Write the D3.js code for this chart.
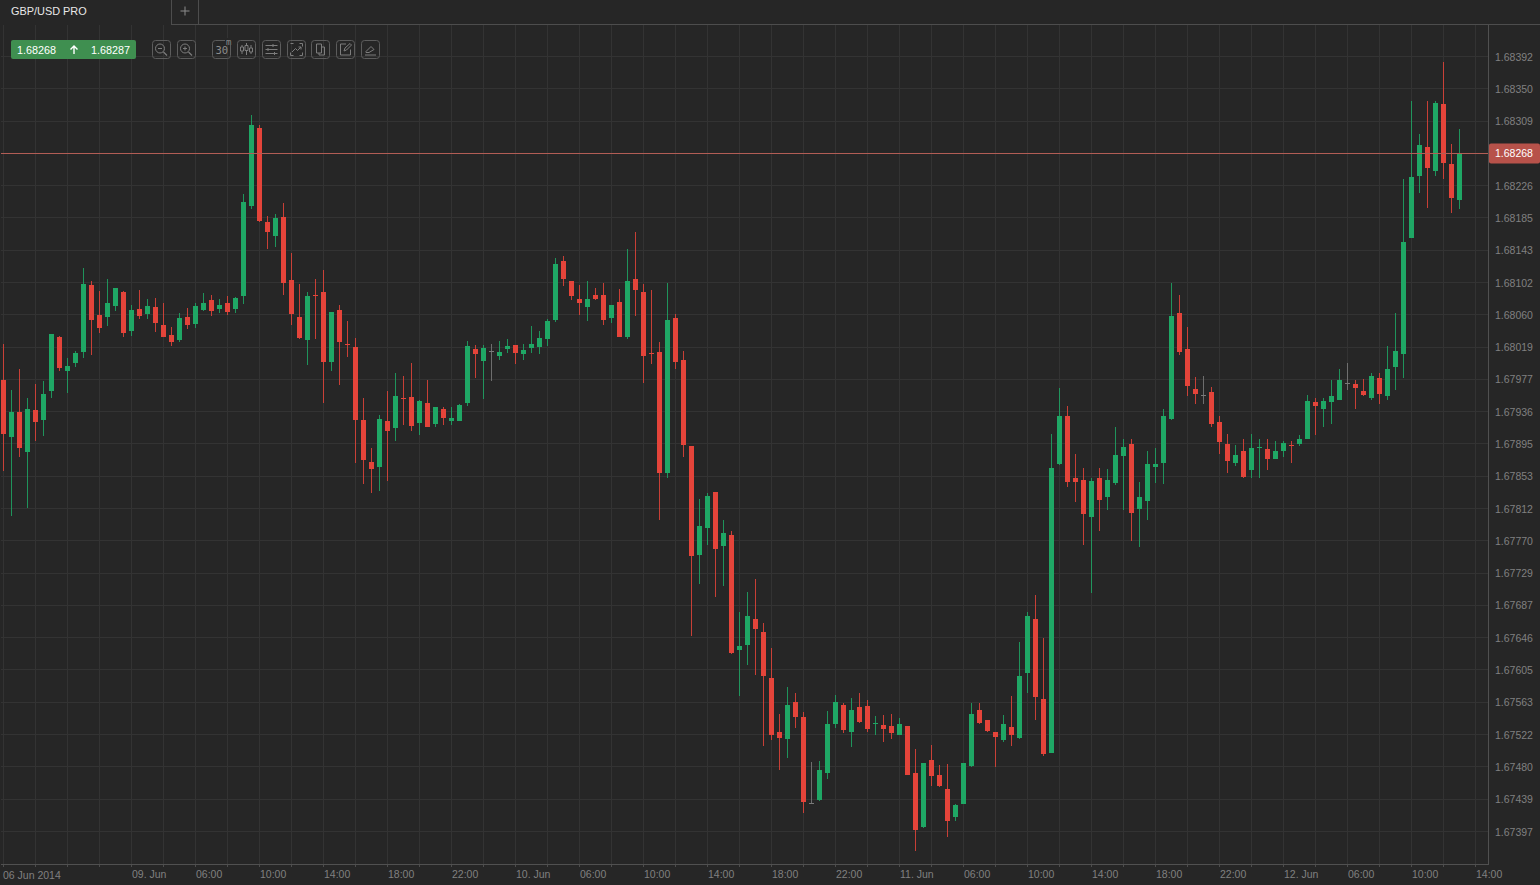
<!DOCTYPE html>
<html><head><meta charset="utf-8">
<style>html,body{margin:0;padding:0;background:#262626;overflow:hidden}svg{display:block}text{font-family:"Liberation Sans",Arial,sans-serif}</style>
<script src="https://cdnjs.cloudflare.com/ajax/libs/d3/7.8.5/d3.min.js"></script>
</head><body><svg id="c" width="1540" height="885"></svg>
<script>
// prices are written as the five digits after "1." (68392 = 1.68392)
const opens=[67977,67904,67936,67885,67939,67926,67963,68033,67989,67999,68013,68099,68061,68058,68072,68090,68040,68068,68062,68071,68048,68035,68029,68058,68049,68067,68080,68068,68076,68068,68085,68201,68301,68180,68162,68187,68106,68058,68029,68086,68090,68000,68067,68024,68020,67926,67872,67866,67925,67916,67954,67955,67922,67948,67921,67940,67925,67925,67948,68017,68002,68015,68008,68017,68022,68011,68018,68020,68030,68054,68130,68104,68081,68071,68087,68087,68057,68077,68033,68107,68090,68012,68013,67858,68057,68003,67893,67753,67787,67833,67764,67778,67631,67637,67670,67654,67595,67525,67516,67564,67545,67434,67438,67473,67536,67560,67525,67557,67559,67536,67534,67533,67522,67533,67473,67403,67489,67470,67452,67416,67433,67482,67554,67541,67525,67515,67532,67518,67601,67670,67568,67498,67869,67931,67851,67849,67802,67851,67827,67845,67880,67895,67812,67822,67865,67871,67927,68063,68017,67966,67958,67962,67923,67895,67871,67886,67862,67890,67889,67876,67886,67894,67895,67901,67949,67940,67949,67952,67974,67972,67963,67954,67980,67957,67994,68011,68159,68239,68276,68246,68332,68255,68208];
const highs=[68024,67965,67991,67954,67972,67976,68036,68034,68006,68015,68121,68104,68091,68107,68095,68092,68074,68093,68081,68082,68076,68045,68063,68070,68076,68089,68086,68081,68085,68084,68216,68318,68305,68188,68190,68205,68141,68100,68090,68107,68119,68065,68074,68053,68031,67954,67890,67932,67963,67986,67983,67999,67951,67977,67943,67943,67943,67946,68028,68022,68022,68023,68027,68030,68022,68023,68046,68040,68056,68134,68136,68104,68099,68104,68095,68102,68074,68094,68145,68167,68100,68093,68026,68102,68062,68015,67893,67824,67832,67833,67798,67783,67680,67705,67722,67665,67633,67549,67583,67576,67551,67487,67488,67552,67573,67563,67569,67576,67567,67546,67547,67549,67543,67533,67503,67485,67509,67483,67484,67433,67486,67562,67562,67541,67525,67547,67572,67641,67679,67701,67646,67908,67967,67944,67882,67864,67852,67864,67863,67917,67901,67902,67846,67886,67890,67940,68102,68086,68045,67981,67982,67968,67931,67908,67894,67901,67908,67902,67902,67899,67899,67899,67907,67958,67954,67954,67977,67991,67999,67977,67978,67986,67986,68021,68063,68235,68335,68293,68336,68336,68385,68280,68299];
const lows=[67860,67803,67878,67813,67899,67905,67954,67989,67960,67994,68006,68010,68038,68047,68066,68033,68034,68056,68056,68039,68032,68021,68026,68043,68044,68066,68060,68063,68061,68063,68075,68197,68180,68145,68148,68086,68048,68030,67997,68030,67948,67989,67971,68007,67871,67844,67832,67835,67847,67899,67919,67912,67907,67917,67917,67920,67920,67925,67944,67980,67953,67976,68003,68012,67998,68003,68012,68011,68021,68052,68098,68080,68061,68053,68080,68048,68051,68033,68030,68060,67973,67998,67797,67851,67992,67878,67649,67716,67765,67699,67713,67626,67571,67612,67598,67508,67515,67476,67492,67531,67422,67433,67437,67465,67530,67524,67506,67537,67526,67521,67512,67517,67522,67470,67373,67402,67456,67455,67391,67411,67433,67481,67536,67525,67480,67512,67508,67517,67576,67541,67494,67498,67868,67840,67821,67766,67704,67783,67810,67842,67810,67770,67763,67798,67845,67844,67926,68009,67957,67947,67946,67917,67882,67858,67867,67851,67852,67852,67862,67876,67879,67871,67893,67901,67907,67917,67921,67952,67964,67940,67957,67952,67946,67951,67965,67980,68159,68218,68198,68239,68235,68192,68197];
const closes=[67908,67936,67890,67940,67923,67959,68036,67993,67995,68012,68101,68054,68044,68076,68095,68038,68067,68060,68072,68050,68033,68026,68057,68048,68072,68076,68066,68074,68065,68083,68206,68305,68181,68167,68185,68102,68062,68031,68085,68085,68000,68065,68026,68023,67926,67875,67863,67927,67912,67957,67953,67918,67950,67917,67943,67928,67928,67945,68021,68011,68018,68015,68013,68021,68012,68016,68023,68031,68053,68126,68107,68085,68076,68081,68081,68054,68074,68033,68104,68093,68008,68011,67858,68054,68000,67894,67751,67790,67828,67760,67781,67627,67636,67674,67658,67597,67522,67518,67560,67545,67436,67434,67477,67536,67564,67528,67554,67538,67529,67537,67529,67524,67536,67470,67400,67485,67469,67456,67411,67432,67485,67549,67537,67527,67519,67536,67522,67597,67674,67570,67497,67864,67931,67846,67846,67805,67848,67823,67849,67881,67891,67807,67827,67869,67869,67931,68060,68013,67969,67959,67958,67921,67898,67873,67881,67853,67890,67891,67876,67886,67897,67893,67901,67950,67944,67950,67957,67977,67974,67967,67958,67982,67959,67991,68015,68155,68238,68279,68250,68333,68256,68211,68268];
const priceLabels=["1.68392","1.68350","1.68309","1.68268","1.68226","1.68185","1.68143","1.68102","1.68060","1.68019","1.67977","1.67936","1.67895","1.67853","1.67812","1.67770","1.67729","1.67687","1.67646","1.67605","1.67563","1.67522","1.67480","1.67439","1.67397"];
const timeTickBars=[16,24,32,40,48,56,64,72,80,88,96,104,112,120,128,136,144,152,160,168,176,184];
const timeTickLabels=["09. Jun","06:00","10:00","14:00","18:00","22:00","10. Jun","06:00","10:00","14:00","18:00","22:00","11. Jun","06:00","10:00","14:00","18:00","22:00","12. Jun","06:00","10:00","14:00"];
const firstDateLabel="06 Jun 2014";
const gridEveryBars=4, gridBarCount=186;
const symbol="GBP/USD PRO", ask="1.68287", bidText="1.68268";

const GREEN="#1fa765", RED="#e4443a", GRAY="#7a7a7a", BG="#262626", GRID="#333333";
const svg=d3.select("#c");
const W=1540,H=885, plotR=1488, plotB=864, plotT=25;
const x=d3.scaleLinear().domain([0,182]).range([3.5,1459.5]);
const y=d3.scaleLinear().domain([68392,67397]).range([57,832]);
const snap=v=>Math.floor(v)+0.5;

svg.append("rect").attr("width",W).attr("height",H).attr("fill",BG);

// grid
const grid=svg.append("g").attr("shape-rendering","crispEdges").attr("stroke",GRID);
const gridVals=d3.quantize(d3.interpolateNumber(68392,67397),priceLabels.length);
grid.selectAll("line.h").data(gridVals).join("line").attr("class","h")
  .attr("x1",1).attr("x2",plotR).attr("y1",d=>snap(y(d)-0.55)).attr("y2",d=>snap(y(d)-0.55));
grid.selectAll("line.v").data(d3.range(0,gridBarCount,gridEveryBars).filter(i=>x(i)<plotR)).join("line").attr("class","v")
  .attr("x1",d=>snap(x(d))).attr("x2",d=>snap(x(d))).attr("y1",plotT).attr("y2",plotB);

// tick stubs below axis
svg.append("g").attr("shape-rendering","crispEdges").attr("stroke","#4c4c4c")
  .selectAll("line").data(d3.range(0,gridBarCount,gridEveryBars).filter(i=>x(i)<plotR)).join("line")
  .attr("x1",d=>snap(x(d))).attr("x2",d=>snap(x(d))).attr("y1",plotB).attr("y2",plotB+3);

// frame
const frame=svg.append("g").attr("shape-rendering","crispEdges").attr("stroke","#505050");
frame.append("line").attr("x1",plotR+.5).attr("x2",plotR+.5).attr("y1",24).attr("y2",plotB+1);
frame.append("line").attr("x1",1).attr("x2",plotR+1).attr("y1",plotB+.5).attr("y2",plotB+.5);

// candles
const bars=opens.map((o,i)=>({i,o,h:highs[i],l:lows[i],c:closes[i]}));
const col=d=>d.c>d.o?GREEN:d.c<d.o?RED:GRAY;
const cg=svg.append("g").attr("shape-rendering","crispEdges");
cg.selectAll("rect.w").data(bars).join("rect").attr("class","w")
  .attr("x",d=>Math.floor(x(d.i))).attr("width",1)
  .attr("y",d=>y(d.h)).attr("height",d=>y(d.l)-y(d.h))
  .attr("fill",col).attr("fill-opacity",.85);
cg.selectAll("rect.b").data(bars).join("rect").attr("class","b")
  .attr("x",d=>x(d.i)-2.5).attr("width",5)
  .attr("y",d=>Math.round(y(Math.max(d.o,d.c))))
  .attr("height",d=>Math.max(1,Math.round(y(Math.min(d.o,d.c)))-Math.round(y(Math.max(d.o,d.c)))))
  .attr("fill",col);

// price line
svg.append("line").attr("shape-rendering","crispEdges").attr("x1",1).attr("x2",plotR).attr("y1",153.5).attr("y2",153.5).attr("stroke","#b25d55");

// y labels
const AXC="#808080", AXF=10.5;
svg.append("g").selectAll("text").data(priceLabels).join("text")
  .attr("x",1495).attr("y",(d,i)=>y(gridVals[i])+3.5).attr("fill",AXC).attr("font-size",AXF).text(d=>d);
svg.append("rect").attr("x",1489).attr("y",143.5).attr("width",51).attr("height",20).attr("rx",2).attr("fill","#b7524a");
svg.append("text").attr("x",1495).attr("y",157).attr("fill","#fff").attr("font-size",AXF).text(bidText);

// x labels
svg.append("g").selectAll("text").data(timeTickBars).join("text")
  .attr("x",d=>x(d)+.5).attr("y",878).attr("fill",AXC).attr("font-size",AXF)
  .text((d,i)=>timeTickLabels[i]);
svg.append("text").attr("x",3).attr("y",879).attr("fill",AXC).attr("font-size",AXF).text(firstDateLabel);

// tab bar
svg.append("rect").attr("x",0).attr("y",0).attr("width",W).attr("height",24).attr("fill",BG);
const tb=svg.append("g").attr("shape-rendering","crispEdges").attr("stroke","#4d4d4d");
tb.append("line").attr("x1",171.5).attr("x2",171.5).attr("y1",0).attr("y2",24);
tb.append("line").attr("x1",198.5).attr("x2",198.5).attr("y1",0).attr("y2",24);
tb.append("line").attr("x1",171).attr("x2",W).attr("y1",24.5).attr("y2",24.5);
svg.append("text").attr("x",11).attr("y",15).attr("fill","#e8e8e8").attr("font-size",10.9).text(symbol);
svg.append("path").attr("d","M185 6.5v9M180.5 11h9").attr("stroke","#8c8c8c").attr("fill","none");

// quote box
svg.append("rect").attr("x",11).attr("y",40).attr("width",125).attr("height",19).attr("rx",2).attr("fill","#3f8f50");
svg.append("text").attr("x",17).attr("y",53.5).attr("fill","#fff").attr("font-size",10.8).text(bidText);
svg.append("text").attr("x",91).attr("y",53.5).attr("fill","#fff").attr("font-size",10.8).text(ask);
svg.append("path").attr("d","M74 54v-8M70.5 49.5L74 46l3.5 3.5").attr("stroke","#fff").attr("stroke-width",1.4).attr("fill","none");

// toolbar icons
const IC="#7d7d7d";
const iconX=[152,177,212,237,262,287,311,336,361];
const iconPaths=[
 "M6 8.5h4",
 "M6 8.5h4M8 6.5v4",
 "",
 "M5 5v9M9.5 3v12M14 5v9",
 "M3.5 5.5h12M3.5 9.5h12M3.5 13.5h12M11 4v3M6 8v3M12.5 12v3",
 "M3.5 3.5h3M12.5 3.5h3v3M3.5 12.5v3h3M15.5 12.5v3h-3M5 12l3.5-3.5 2 2L14 7M14 7h-2.5M14 7v2.5",
 "M5.5 4h5v9h-5zM10.5 7h3v8h-5.5v-2",
 "M10 4H4.5v11h10V9.5M8 11l1-3 5-4.5 1.5 1.5-5 5z",
 "M4 15h11M5 11.5l5-5 3 3-5 3h-3z"
];
const ig=svg.append("g");
iconX.forEach((ix,k)=>{
  const g=ig.append("g").attr("transform",`translate(${ix},40)`);
  g.append("rect").attr("x",.5).attr("y",.5).attr("width",18).attr("height",18).attr("rx",3).attr("fill","none").attr("stroke","#5c5c5c");
  g.append("path").attr("d",iconPaths[k]).attr("fill","none").attr("stroke",IC);
  if(k<2){g.append("circle").attr("cx",8).attr("cy",8.5).attr("r",4.5).attr("fill","none").attr("stroke",IC);
    g.append("path").attr("d","M11.5 12l3.5 3.5").attr("stroke",IC).attr("stroke-width",1.3);}
  if(k===2){g.append("rect").attr("x",13).attr("y",-2).attr("width",8).attr("height",7).attr("fill",BG);
    g.append("text").attr("x",3.5).attr("y",13.5).attr("fill","#8c8c8c").attr("font-size",10.5).style("font-family","DejaVu Sans Mono").text("30");
    g.append("text").attr("x",14).attr("y",4.5).attr("fill","#8c8c8c").attr("font-size",9).style("font-family","DejaVu Sans Mono").text("m");}
  if(k===3){["M3.5 7h3v4h-3z","M8 5.5h3v5h-3z","M12.5 8h3v4h-3z"].forEach(p=>g.append("path").attr("d",p).attr("fill",BG).attr("stroke",IC));}
});
</script></body></html>
